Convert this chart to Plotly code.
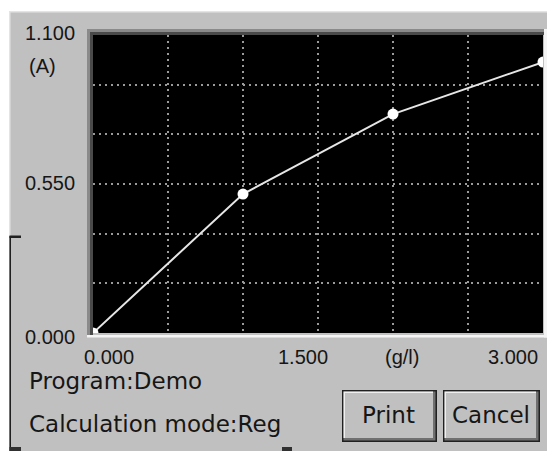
import plotly.graph_objects as go

# ---- data ----
conc_gl = [0.0, 1.0, 2.0, 3.0]
absorb_A = [0.0, 0.513, 0.808, 1.0]

x_tick_vals = [0.0, 1.5, 3.0]
x_tick_text = ["0.000", "1.500", "3.000"]
y_tick_vals = [1.1, 0.55, 0.0]
y_tick_text = ["1.100", "0.550", "0.000"]
x_unit = "(g/l)"
y_unit = "(A)"
info_lines = ["Program:Demo", "Calculation mode:Reg"]
buttons = ["Print", "Cancel"]

# ---- geometry (pixels) ----
W, H = 547, 451
L, R, T, B = 93, 543, 35, 333
PW, PH = R - L, B - T


def px(x):
    return (x - L) / PW


def py(y):
    return (B - y) / PH


GRAY = "#c0c0c0"
TXT = "#161616"

fig = go.Figure()
fig.add_trace(go.Scatter(
    x=conc_gl, y=absorb_A, mode="lines+markers",
    line=dict(color="#e6e6e6", width=2),
    marker=dict(color="white", size=11),
    showlegend=False, hoverinfo="skip",
))

shapes = []


def rect(x0, y0, x1, y1, fill, layer="above"):
    shapes.append(dict(type="rect", xref="paper", yref="paper",
                       x0=px(x0), x1=px(x1), y0=py(y1), y1=py(y0),
                       fillcolor=fill, layer=layer, line=dict(width=0)))


# white outside window area
rect(0, 0, W, 11, "white")
rect(0, 0, 9, H, "white")
# light top/left edge of panel
rect(9, 11, W, 12.5, "#e4e4e4")
rect(9, 11, 10.5, 237, "#e4e4e4")
# dark left line + handles
rect(9.5, 236, 11, H, "#202020")
rect(9.5, 235.5, 21, 238, "#202020")
rect(9.5, 447, 21, H, "#303030")
rect(282, 447, 292, H, "#303030")

# plot bevel
rect(87, 29, 546, 32, "#8a8a8a")
rect(87, 29, 90, 337, "#8a8a8a")
rect(90, 32, 546, 35, "#4a4a4a")
rect(90, 32, 93, 335, "#4a4a4a")
rect(87, 335, 547, 337.5, "#f4f4f4")
rect(544, 29, 547, 337.5, "#f4f4f4")

# buttons
btn_boxes = [(342, 390, 437, 442), (443, 390, 540, 442)]
for (x0, y0, x1, y1) in btn_boxes:
    rect(x0, y0, x1, y1, "#202020")
    rect(x0 + 1.5, y0 + 1.5, x1 - 1.5, y1 - 1.5, "#707070")
    rect(x0 + 1.5, y0 + 1.5, x1 - 4, y1 - 4, "#f0f0f0")
    rect(x0 + 3, y0 + 3, x1 - 4, y1 - 4, GRAY)

annotations = []
tick_font = dict(family="Liberation Sans", size=20, color=TXT)
# y tick labels
y_shift = [2, 1, -4]
for v, t, s in zip(y_tick_vals, y_tick_text, y_shift):
    annotations.append(dict(x=0, xref="paper", y=v, yref="y", text=t,
                            xanchor="right", yanchor="middle", xshift=-16,
                            yshift=s, showarrow=False, font=tick_font))
annotations.append(dict(x=px(42), xref="paper", y=py(66), yref="paper",
                        text=y_unit, xanchor="center", yanchor="middle",
                        showarrow=False, font=tick_font))
# x tick labels
x_shift = [16, -15, -30]
for v, t, s in zip(x_tick_vals, x_tick_text, x_shift):
    annotations.append(dict(x=v, xref="x", y=0, yref="paper", text=t,
                            xanchor="center", yanchor="middle", xshift=s,
                            yshift=-24, showarrow=False, font=tick_font))
annotations.append(dict(x=px(402), xref="paper", y=py(357), yref="paper",
                        text=x_unit, xanchor="center", yanchor="middle",
                        showarrow=False, font=tick_font))

info_font = dict(family="DejaVu Sans", size=23, color=TXT)
for t, yy in zip(info_lines, [380.5, 423.5]):
    annotations.append(dict(x=px(27), xref="paper", y=py(yy), yref="paper",
                            text=t, xanchor="left", yanchor="middle",
                            showarrow=False, font=info_font))

btn_font = dict(family="DejaVu Sans", size=23, color=TXT)
for t, (x0, y0, x1, y1) in zip(buttons, btn_boxes):
    annotations.append(dict(x=px((x0 + x1) / 2 - 1), xref="paper",
                            y=py((y0 + y1) / 2 - 1), yref="paper",
                            text=t, xanchor="center", yanchor="middle",
                            showarrow=False, font=btn_font))

grid = dict(showticklabels=False, ticks="", showgrid=True,
            gridcolor="#9a9a9a", gridwidth=1.5, griddash="1.5px,4.5px",
            zeroline=False, showline=False, fixedrange=True)
fig.update_layout(
    width=W, height=H,
    margin=dict(l=L, r=W - R, t=T, b=H - B, pad=0),
    paper_bgcolor=GRAY, plot_bgcolor="black",
    shapes=shapes, annotations=annotations,
    xaxis=dict(range=[0, 3], tick0=0, dtick=0.5, **grid),
    yaxis=dict(range=[0, 1.1], tick0=0, dtick=1.1 / 6, **grid),
)

fig.write_html(
    "out.html",
    config={"displayModeBar": False},
    post_script="document.body.style.margin='0';"
                "document.body.style.overflow='hidden';",
)
